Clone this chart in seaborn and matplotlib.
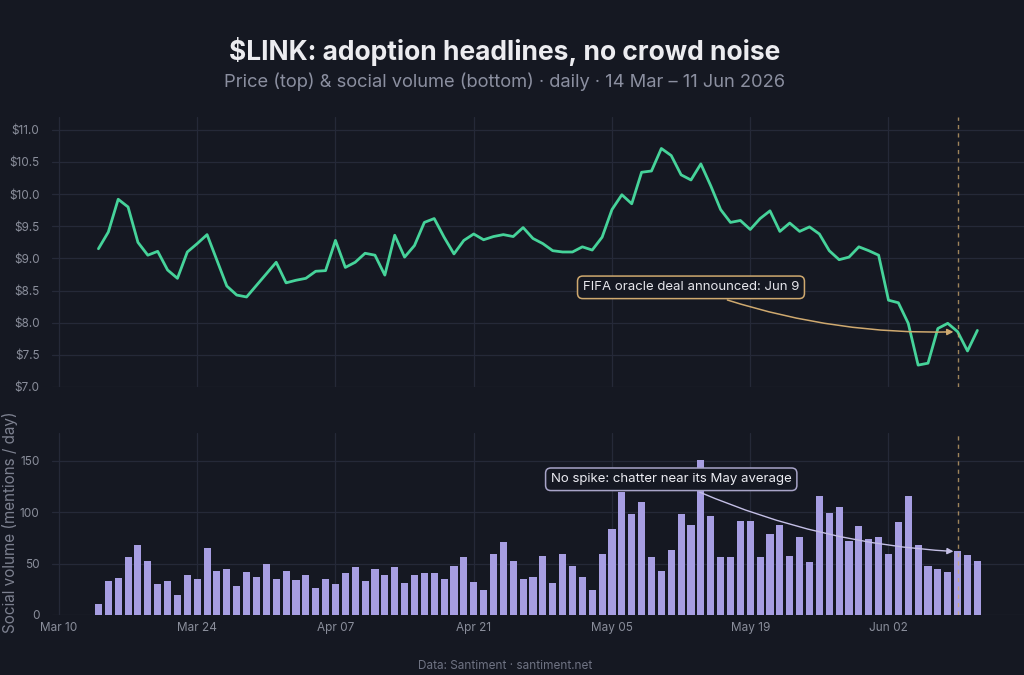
import numpy as np
import pandas as pd
import matplotlib
matplotlib.use("Agg")
import matplotlib.pyplot as plt
import matplotlib.dates as mdates
from matplotlib.ticker import FuncFormatter
import seaborn as sns

# ---------------- data ----------------
start_date = "2026-03-14"
end_date = "2026-06-11"
event_date = "2026-06-09"

price = [9.15, 9.41, 9.92, 9.80, 9.25, 9.05, 9.11, 8.82, 8.69, 9.10,
         9.23, 9.37, 8.97, 8.57, 8.43, 8.40, 8.58, 8.76, 8.94, 8.62,
         8.66, 8.69, 8.80, 8.81, 9.28, 8.86, 8.94, 9.08, 9.05, 8.74,
         9.36, 9.02, 9.20, 9.56, 9.62, 9.33, 9.07, 9.28, 9.38, 9.29,
         9.34, 9.37, 9.34, 9.48, 9.31, 9.23, 9.12, 9.10, 9.10, 9.18,
         9.13, 9.33, 9.76, 9.99, 9.85, 10.34, 10.36, 10.71, 10.60, 10.30,
         10.22, 10.47, 10.13, 9.76, 9.56, 9.59, 9.45, 9.62, 9.74, 9.42,
         9.55, 9.42, 9.49, 9.38, 9.12, 8.98, 9.02, 9.18, 9.12, 9.05,
         8.35, 8.31, 7.99, 7.34, 7.37, 7.91, 7.99, 7.86, 7.56, 7.88]

volume = [11, 33, 36, 56, 68, 53, 30, 33, 19, 39,
          35, 65, 43, 45, 28, 42, 37, 50, 35, 43,
          34, 39, 26, 35, 30, 41, 47, 33, 45, 39,
          47, 31, 39, 41, 41, 35, 48, 56, 32, 24,
          59, 71, 53, 35, 37, 57, 31, 59, 48, 37,
          24, 59, 84, 120, 98, 110, 56, 43, 63, 98,
          88, 151, 96, 56, 56, 91, 91, 56, 79, 88,
          57, 76, 52, 116, 99, 105, 72, 87, 74, 76,
          59, 90, 116, 68, 48, 45, 42, 62, 58, 53]

xtick_dates = ["2026-03-10", "2026-03-24", "2026-04-07", "2026-04-21",
               "2026-05-05", "2026-05-19", "2026-06-02"]
price_ticks = [7.0, 7.5, 8.0, 8.5, 9.0, 9.5, 10.0, 10.5, 11.0]
volume_ticks = [0, 50, 100, 150]

title = "\\$LINK: adoption headlines, no crowd noise"
subtitle = "Price (top) & social volume (bottom) · daily · 14 Mar – 11 Jun 2026"
footer = "Data: Santiment · santiment.net"
price_note = "FIFA oracle deal announced: Jun 9"
volume_note = "No spike: chatter near its May average"
volume_ylabel = "Social volume (mentions / day)"

# ---------------- styling ----------------
BG = "#151822"
GRID = "#252938"
TICK = "#8a8e9b"
GREEN = "#46d39a"
BAR = "#a79ee2"
GOLD = "#cfa96f"
LAV = "#c4bfe6"

sns.set_theme(style="dark")
plt.rcParams["font.family"] = ["Inter", "DejaVu Sans"]

dates = pd.date_range(start_date, end_date, freq="D")
xnum = mdates.date2num(dates)
df = pd.DataFrame({"x": xnum, "price": price, "volume": volume})
ev = mdates.date2num(pd.Timestamp(event_date))
xt = mdates.date2num(pd.to_datetime(xtick_dates))
xlim = (xnum[0] - 4.7, xnum[-1] + 4.7)

fig = plt.figure(figsize=(10.24, 6.75), dpi=100, facecolor=BG)
ax1 = fig.add_axes([0.0508, 0.4267, 0.949, 0.400])
ax2 = fig.add_axes([0.0508, 0.0889, 0.949, 0.2696])

for ax in (ax1, ax2):
    ax.set_facecolor(BG)
    for s in ax.spines.values():
        s.set_visible(False)
    ax.grid(True, color=GRID, linewidth=0.9)
    ax.set_axisbelow(True)
    ax.tick_params(length=0, colors=TICK, labelsize=8.5)

# price line
sns.lineplot(data=df, x="x", y="price", ax=ax1, color=GREEN, linewidth=2.0)
ax1.set_xlim(*xlim)
ax1.set_ylim(7.0, 11.2)
ax1.set_yticks(price_ticks)
ax1.yaxis.set_major_formatter(FuncFormatter(lambda v, p: f"${v:.1f}"))
ax1.set_xticks(xt)
ax1.set_xticklabels([])
ax1.set_xlabel("")
ax1.set_ylabel("")
ax1.tick_params(axis="y", pad=9)
ax1.axvline(ev, color=GOLD, linestyle=(0, (3, 3)), linewidth=1.0, alpha=0.75)

ax1.annotate(price_note, xy=(ev, 7.86), xytext=(xnum[0] + 60.0, 8.55),
             textcoords="data", ha="center", va="center", color="#e6e6ec",
             fontsize=9.5,
             bbox=dict(boxstyle="round,pad=0.4", fc=BG, ec=GOLD, lw=1.1),
             arrowprops=dict(arrowstyle="-|>", color=GOLD, lw=1.1,
                             connectionstyle="arc3,rad=0.1",
                             mutation_scale=9, shrinkB=3))

# volume bars
sns.barplot(data=df, x="x", y="volume", ax=ax2, native_scale=True,
            color=BAR, width=0.72, linewidth=0, saturation=1)
ax2.set_xlim(*xlim)
ax2.set_ylim(0, 177)
ax2.set_yticks(volume_ticks)
ax2.set_xticks(xt)
ax2.xaxis.set_major_formatter(mdates.DateFormatter("%b %d"))
ax2.set_xlabel("")
ax2.set_ylabel("")
ax2.tick_params(axis="y", pad=9)
ax2.tick_params(axis="x", pad=5)
ax2.axvline(ev, color=GOLD, linestyle=(0, (3, 3)), linewidth=1.0, alpha=0.75)

ax2.annotate(volume_note, xy=(ev, 61.6), xytext=(xnum[0] + 58.0, 132),
             textcoords="data", ha="center", va="center", color="#ececf2",
             fontsize=9.5,
             bbox=dict(boxstyle="round,pad=0.4", fc=BG, ec="#a8a4c8", lw=1.1),
             arrowprops=dict(arrowstyle="-|>", color=LAV, lw=1.0,
                             connectionstyle="arc3,rad=0.1",
                             mutation_scale=9, shrinkB=3))

# titles
fig.text(0.493, 1 - 52 / 675, title, ha="center", va="center",
         fontsize=19, fontweight="bold", color="#ececf0")
fig.text(0.493, 1 - 82 / 675, subtitle, ha="center", va="center",
         fontsize=13.2, color="#8b8fa0")
fig.text(0.493, 1 - 666 / 675, footer, ha="center", va="center",
         fontsize=8.5, color="#6f7383")
fig.text(10 / 1024, 1 - 522 / 675, volume_ylabel, ha="center", va="center",
         rotation=90, fontsize=11, color="#7d8190")

fig.savefig("out.png", dpi=100, facecolor=BG)
